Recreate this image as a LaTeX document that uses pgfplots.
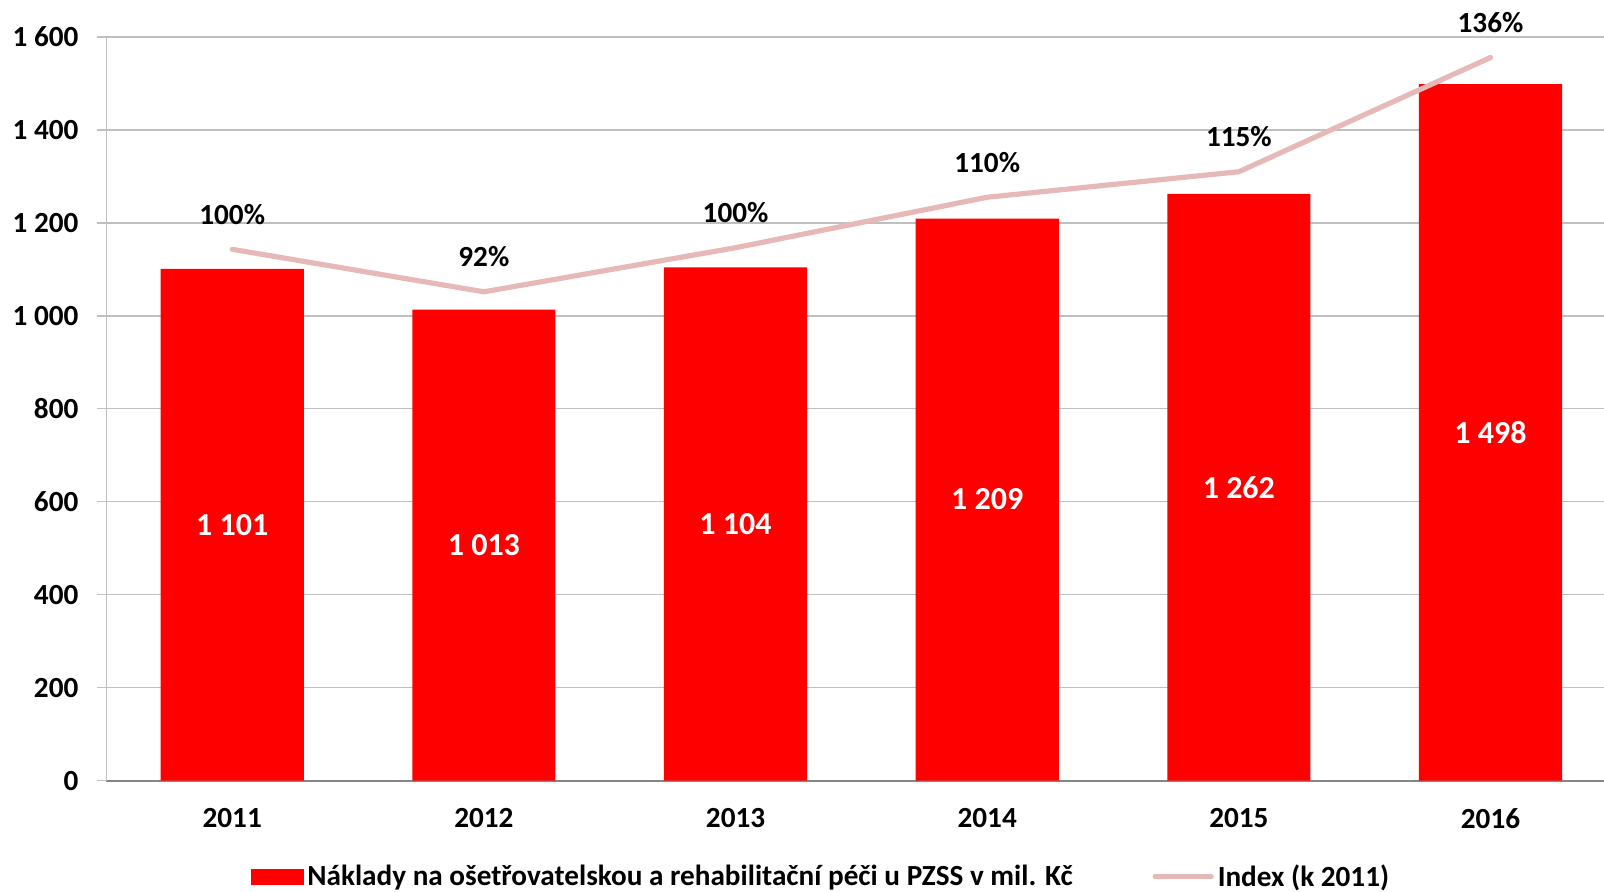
\documentclass[border=0pt]{standalone}
\usepackage{pgfplots}
\pgfplotsset{compat=1.18}
\usepackage{fontspec}
\setmainfont{Carlito}
\definecolor{barred}{RGB}{255,0,0}
\definecolor{idxpink}{RGB}{230,185,184}
\definecolor{gridgray}{RGB}{191,191,191}
\definecolor{axisgray}{RGB}{134,134,134}
\newcommand{\tickfont}{\fontsize{14.6}{17}\selectfont\bfseries}
\newcommand{\barfont}{\fontsize{16}{19}\selectfont\bfseries}
\begin{document}
\begin{tikzpicture}
\begin{axis}[
  at={(0,0)}, anchor=south west,
  scale only axis, width=748.8pt, height=371.9pt,
  xmin=-0.5, xmax=5.451, ymin=0, ymax=1600,
  xtick={0,1,2,3,4,5}, xticklabels={2011,2012,2013,2014,2015,2016},
  ytick={0,200,...,1600},
  axis x line*=bottom, axis y line*=left,
  x axis line style={axisgray, line width=1pt, -},
  y axis line style={gridgray, line width=0.8pt, -},
  ymajorgrids, grid style={gridgray, line width=0.8pt},
  xtick style={draw=none},
  ytick style={gridgray, line width=0.8pt},
  major tick length=4.6pt, tick align=outside,
  /pgf/number format/1000 sep={\ },
  /pgf/number format/assume math mode=true,
  xticklabel style={font=\tickfont, anchor=center, yshift=-14.3pt},
  yticklabel style={font=\tickfont, anchor=east, inner sep=0pt, xshift=-9.2pt},
  clip=false,
]
\addplot[ybar, bar width=0.569, fill=barred, draw=none,
  visualization depends on={y \as \rawy},
  nodes near coords={\pgfmathprintnumber{\pgfplotspointmeta}},
  every node near coord/.append style={anchor=center, text=white, font=\barfont,
     shift={(axis direction cs:0,-\rawy/2)}},
] table {
x y
0 1101
1 1013
2 1104
3 1209
4 1262
5 1498
};
\end{axis}
\begin{axis}[
  at={(0,0)}, anchor=south west,
  scale only axis, width=748.8pt, height=371.9pt,
  xmin=-0.5, xmax=5.451, ymin=0, ymax=140,
  axis lines=none, clip=false,
  /pgf/number format/assume math mode=true,
  legend style={at={(axis description cs:0.478,-0.1293)}, anchor=center,
    draw=none, fill=none, legend columns=2, font=\tickfont,
    /tikz/every even column/.append style={column sep=38pt}},
  legend cell align=left,
]
\addlegendimage{legend image code/.code={\fill[barred] (0pt,-3.85pt) rectangle (25.6pt,3.85pt);}}
\addlegendentry{Náklady na ošetřovatelskou a rehabilitační péči u PZSS v mil. Kč}
\addplot[idxpink, line width=2.6pt, line cap=round, line join=round, mark=none,
  nodes near coords={\pgfmathprintnumber[fixed,precision=0]{\pgfplotspointmeta}\%},
  every node near coord/.append style={anchor=center, text=black, font=\tickfont, yshift=17.4pt},
  legend image code/.code={\draw[idxpink, line width=2.6pt, line cap=round] (0pt,0pt) -- (28pt,0pt);},
] table {
x y
0 100.0
1 92.0
2 100.3
3 109.8
4 114.6
5 136.1
};
\addlegendentry{Index (k 2011)}
\end{axis}
\pgfresetboundingbox
\path[use as bounding box] (-53.2pt,-55.7pt) rectangle (748.8pt,390.3pt);
\end{tikzpicture}
\end{document}
